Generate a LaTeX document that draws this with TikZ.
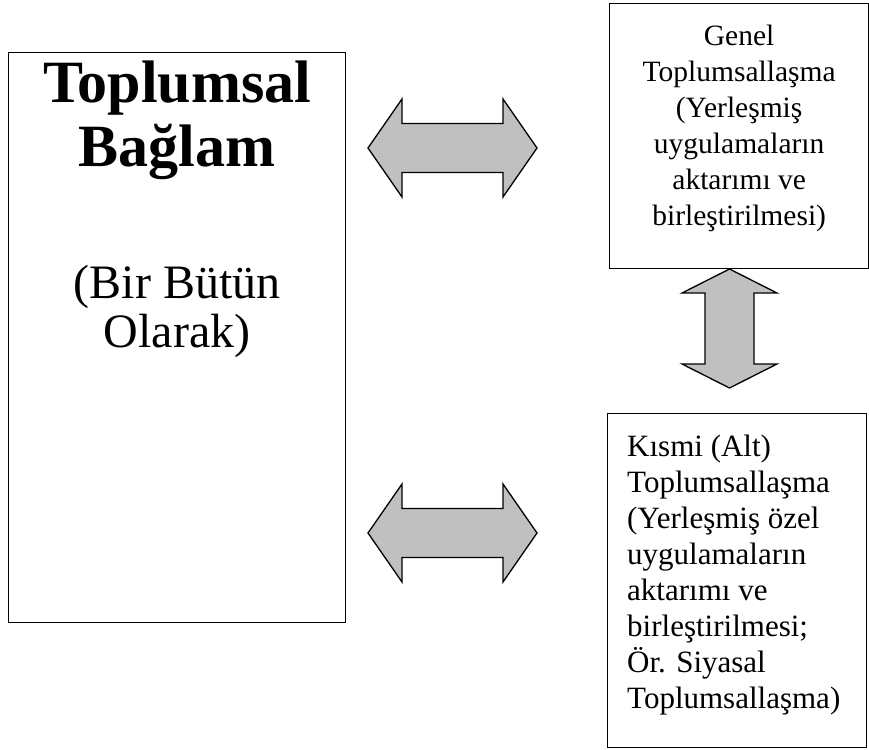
\documentclass[tikz,border=0pt]{standalone}
\usepackage{fontspec}
\setmainfont{Liberation Serif}
\usepackage{xcolor}
\usetikzlibrary{positioning}

\definecolor{arrowgray}{RGB}{192,192,192}
\newcommand\tightlines{\lineskiplimit=-100pt\relax}

\begin{document}
\begin{tikzpicture}[
    x=1pt, y=-1pt,
    every node/.style={inner sep=0pt},
    box/.style={draw, line width=1.3pt, anchor=north west},
    bigarrow/.style={draw, line width=1.3pt, fill=arrowgray, line join=miter},
    hdouble/.pic={
      \draw[bigarrow] (-84.5,0) -- (-50.5,-49) -- (-50.5,-24.5) -- (50.5,-24.5) -- (50.5,-49) -- (84.5,0)
        -- (50.5,49) -- (50.5,24.5) -- (-50.5,24.5) -- (-50.5,49) -- cycle;
    },
    vdouble/.pic={
      \draw[bigarrow] (0,-59.5) -- (47.5,-35.5) -- (24.5,-35.5) -- (24.5,35.5) -- (47.5,35.5) -- (0,59.5)
        -- (-47.5,35.5) -- (-24.5,35.5) -- (-24.5,-35.5) -- (-47.5,-35.5) -- cycle;
    }
  ]

  % Frame
  \useasboundingbox (0,0) rectangle (869,749);

  % Boxes
  \node[box, minimum width=337pt, minimum height=570pt] (context) at (8,52) {};
  \node[box, minimum width=259pt, minimum height=265pt] (general) at (609,3) {};
  \node[box, minimum width=259pt, minimum height=334pt] (partial) at (607,413) {};

  % Texts
  \node[below=9pt of context.north, align=center,
        font=\bfseries\fontsize{60}{64}\selectfont\tightlines] (title) {Toplumsal\\Bağlam};
  \node[below=85pt of title, align=center,
        font=\fontsize{48}{49}\selectfont\tightlines] (subtitle) {(Bir Bütün\\Olarak)};
  \node[below=22pt of general.north, align=center,
        font=\fontsize{29.5}{36}\selectfont\tightlines] (generaltext)
    {Genel\\Toplumsallaşma\\(Yerleşmiş\\uygulamaların\\aktarımı ve\\birleştirilmesi)};
  \node[below right=22pt and 20pt of partial.north west, align=left,
        font=\fontsize{31}{36}\selectfont\tightlines] (partialtext)
    {Kısmi (Alt)\\Toplumsallaşma\\(Yerleşmiş özel\\uygulamaların\\aktarımı ve\\birleştirilmesi;\\Ör. Siyasal\\Toplumsallaşma)};

  % Arrows
  \coordinate (upperlink) at (452.5,148);
  \coordinate (lowerlink) at (452.5,533);
  \coordinate (rightlink) at (729.5,328.5);
  \pic at (upperlink) {hdouble};
  \pic at (lowerlink) {hdouble};
  \pic at (rightlink) {vdouble};

\end{tikzpicture}
\end{document}
